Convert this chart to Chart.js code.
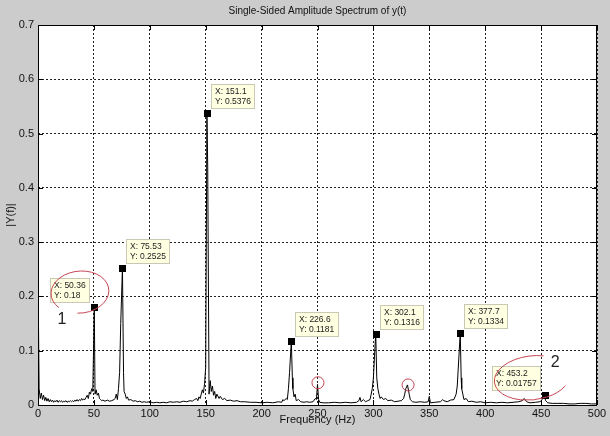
<!DOCTYPE html>
<html>
<head>
<meta charset="utf-8">
<script src="https://cdn.jsdelivr.net/npm/chart.js@4"></script>
<style>
  html, body { margin: 0; padding: 0; background: #cccccc; }
  canvas { display: block; }
</style>
</head>
<body>
<canvas id="grafico" width="610" height="436"></canvas>
<script>
// === DATOS ===
const frecuencias = [
  0, 1, 2, 3, 4, 5, 6, 7, 8, 9, 10, 11, 12, 13, 14, 15, 16, 17, 18, 19, 20,
  21, 22, 23, 24, 25, 26, 27, 28, 29, 30, 31, 32, 33, 34, 35, 36, 37, 38, 39,
  40, 41, 42, 43, 44, 45, 46, 47, 48, 49, 50.36, 51, 52, 53, 54, 55, 56, 57,
  58, 60, 62, 64, 66, 68, 69, 70, 71, 72, 73, 74, 75.53, 76.5, 77, 78, 79, 80,
  81, 83, 85, 87, 89, 91, 93, 95, 97, 100, 103, 106, 109, 112, 115, 118, 121,
  124, 127, 130, 133, 136, 138, 140, 142, 143, 144, 145, 146, 147, 148, 149,
  150, 151.1, 151.8, 153, 154, 155, 156, 157, 158, 159, 160, 162, 163, 165,
  167, 169, 172, 175, 178, 181, 185, 190, 195, 200, 205, 210, 215, 218, 219,
  220, 222, 223, 224, 225, 226.6, 227.5, 228, 229, 230, 231, 233, 235, 238,
  240, 243, 246, 248, 249, 250, 251, 252, 255, 260, 265, 270, 275, 280, 285,
  287, 288, 289, 291, 293, 295, 297, 298, 299, 300, 301, 302.1, 303, 304, 305,
  306, 307, 309, 311, 313, 316, 319, 322, 325, 327, 328, 329, 330.5, 332, 333,
  335, 338, 342, 346, 349, 350, 351, 355, 360, 362, 363, 366, 369, 372, 374,
  375, 376.5, 377.7, 378.5, 379, 380, 381, 383, 385, 388, 392, 396, 400, 405,
  410, 415, 420, 425, 430, 433, 435, 437, 440, 445, 449, 451, 452, 453.2, 454,
  456, 460, 465, 470, 475, 480, 485, 490, 495, 500
];
const amplitudes = [
  0.245, 0.030, 0.012, 0.022, 0.010, 0.018, 0.008, 0.014, 0.007, 0.012, 0.006,
  0.010, 0.006, 0.009, 0.005, 0.008, 0.006, 0.009, 0.005, 0.008, 0.006,
  0.008, 0.005, 0.007, 0.006, 0.008, 0.005, 0.007, 0.006, 0.008, 0.006, 0.008,
  0.006, 0.009, 0.007, 0.010, 0.007, 0.010, 0.008, 0.012,
  0.009, 0.011, 0.010, 0.014, 0.018, 0.012, 0.024, 0.020, 0.030, 0.025, 0.180,
  0.020, 0.028, 0.018, 0.022, 0.012, 0.010, 0.008,
  0.009, 0.007, 0.009, 0.007, 0.008, 0.010, 0.012, 0.020, 0.010, 0.030, 0.060,
  0.150, 0.2525, 0.060, 0.025, 0.020, 0.012, 0.015,
  0.009, 0.010, 0.007, 0.008, 0.006, 0.007, 0.005, 0.006, 0.005, 0.006, 0.004,
  0.005, 0.004, 0.005, 0.004, 0.006, 0.005,
  0.006, 0.005, 0.007, 0.006, 0.008, 0.007, 0.010, 0.012, 0.008, 0.015, 0.012,
  0.020, 0.028, 0.022, 0.040,
  0.070, 0.5376, 0.440, 0.020, 0.045, 0.025, 0.035, 0.018, 0.025, 0.012,
  0.020, 0.012, 0.016, 0.010,
  0.012, 0.008, 0.009, 0.007, 0.008, 0.006, 0.006, 0.005, 0.005, 0.004, 0.005,
  0.004, 0.006, 0.005, 0.010,
  0.008, 0.012, 0.010, 0.030, 0.060, 0.1181, 0.050, 0.030, 0.015, 0.020,
  0.008, 0.010, 0.006, 0.005,
  0.006, 0.005, 0.006, 0.012, 0.010, 0.038, 0.010, 0.005, 0.004, 0.004, 0.005,
  0.004, 0.005, 0.004, 0.005,
  0.008, 0.014, 0.006, 0.010, 0.006, 0.008, 0.010, 0.020, 0.030, 0.050, 0.090,
  0.1316, 0.050, 0.030, 0.020,
  0.012, 0.015, 0.010, 0.012, 0.008, 0.009, 0.006, 0.007, 0.008, 0.012, 0.020,
  0.030, 0.037, 0.020, 0.010,
  0.006, 0.005, 0.006, 0.005, 0.006, 0.016, 0.004, 0.005, 0.006, 0.010, 0.008,
  0.006, 0.009, 0.010, 0.020,
  0.035, 0.090, 0.1334, 0.050, 0.030, 0.020, 0.010, 0.012, 0.006, 0.007, 0.005,
  0.006, 0.004, 0.005,
  0.004, 0.005, 0.004, 0.005, 0.006, 0.008, 0.012, 0.006, 0.004, 0.005, 0.006,
  0.010, 0.014, 0.01757, 0.008,
  0.004, 0.003, 0.003, 0.003, 0.002, 0.002, 0.003, 0.003, 0.002, 0.002
];

// marcadores (data tips) de MATLAB
const marcasX = [50.36, 75.53, 151.1, 226.6, 302.1, 377.7, 453.2];
const marcasY = [0.18, 0.2525, 0.5376, 0.1181, 0.1316, 0.1334, 0.01757];

const ticksX = [0, 50, 100, 150, 200, 250, 300, 350, 400, 450, 500];
const ticksY = [0, 0.1, 0.2, 0.3, 0.4, 0.5, 0.6, 0.7];

const puntos = frecuencias.map((f, i) => ({ x: f, y: amplitudes[i] }));

const fuente = "'Liberation Sans', Arial, sans-serif";

// === PLUGIN: FONDO BLANCO Y MARCO ===
const marcoPlugin = {
  id: 'marco',
  beforeDraw(chart) {
    const { ctx, chartArea: a } = chart;
    ctx.save();
    ctx.fillStyle = '#ffffff';
    ctx.fillRect(a.left, a.top, a.right - a.left, a.bottom - a.top);
    ctx.restore();
  },
  afterDatasetsDraw(chart) {
    const { ctx, chartArea: a, scales } = chart;
    ctx.save();
    ctx.strokeStyle = '#000';
    ctx.lineWidth = 1;
    ctx.strokeRect(Math.round(a.left) + 0.5, Math.round(a.top) + 0.5,
      Math.round(a.right - a.left) - 1, Math.round(a.bottom - a.top));
    // ticks hacia dentro
    ctx.beginPath();
    ticksX.forEach(t => {
      const px = Math.round(scales.x.getPixelForValue(t)) + 0.5;
      ctx.moveTo(px, a.bottom); ctx.lineTo(px, a.bottom - 5);
      ctx.moveTo(px, a.top); ctx.lineTo(px, a.top + 5);
    });
    ticksY.forEach(t => {
      const py = Math.round(scales.y.getPixelForValue(t)) + 0.5;
      ctx.moveTo(a.left, py); ctx.lineTo(a.left + 5, py);
      ctx.moveTo(a.right, py); ctx.lineTo(a.right - 5, py);
    });
    ctx.stroke();
    ctx.restore();
  }
};

// === PLUGIN: DATA TIPS ===
const tipsPlugin = {
  id: 'tips',
  afterDraw(chart, args, opts) {
    const { ctx, scales } = chart;
    ctx.save();
    ctx.font = '8.5px ' + fuente;
    ctx.textBaseline = 'middle';
    marcasX.forEach((mx, i) => {
      const px = scales.x.getPixelForValue(mx);
      const py = scales.y.getPixelForValue(marcasY[i]);
      const lineas = ['X: ' + mx, 'Y: ' + marcasY[i]];
      const w = Math.ceil(Math.max(...lineas.map(l => ctx.measureText(l).width))) + 8;
      const h = 25;
      const izq = opts.izquierda.includes(i);
      const bx = Math.round(izq ? px - 4 - w : px + 4);
      const by = Math.round(py - 4 - h);
      ctx.fillStyle = '#ffffe1';
      ctx.fillRect(bx, by, w, h);
      ctx.strokeStyle = '#c8c8b4';
      ctx.lineWidth = 1;
      ctx.strokeRect(bx + 0.5, by + 0.5, w - 1, h - 1);
      ctx.fillStyle = '#222';
      ctx.fillText(lineas[0], bx + 4, by + 7.5);
      ctx.fillText(lineas[1], bx + 4, by + 17.5);
      ctx.fillStyle = '#000';
      ctx.fillRect(Math.round(px) - 3, Math.round(py) - 3, 7, 7);
    });
    ctx.restore();
  }
};

// === PLUGIN: ANOTACIONES EN ROJO ===
const notasPlugin = {
  id: 'notas',
  afterDraw(chart) {
    const { ctx, scales } = chart;
    const X = v => scales.x.getPixelForValue(v);
    const Y = v => scales.y.getPixelForValue(v);
    ctx.save();
    ctx.strokeStyle = 'rgb(200, 70, 85)';
    ctx.lineWidth = 1;
    // elipse 1
    ctx.beginPath();
    ctx.ellipse(X(37.5), Y(0.208), 29, 21, -0.1, 0.78 * Math.PI, 2.55 * Math.PI);
    ctx.stroke();
    // elipse 2
    ctx.beginPath();
    ctx.ellipse(X(442), Y(0.05), 38, 22, -0.12, -0.38 * Math.PI, 0.18 * Math.PI, true);
    ctx.stroke();
    // circulos pequeños
    ctx.beginPath();
    ctx.arc(X(250.4), Y(0.041), 6, 0, 2 * Math.PI);
    ctx.stroke();
    ctx.beginPath();
    ctx.arc(X(331), Y(0.037), 6, 0, 2 * Math.PI);
    ctx.stroke();
    // numeros
    ctx.fillStyle = '#222';
    ctx.font = '16px ' + fuente;
    ctx.textAlign = 'center';
    ctx.textBaseline = 'middle';
    ctx.fillText('1', X(21.5), Y(0.157));
    ctx.fillText('2', X(462.5), Y(0.079));
    ctx.restore();
  }
};

// === GRAFICO ===
const ctx = document.getElementById('grafico').getContext('2d');
const grafico = new Chart(ctx, {
  type: 'line',
  data: {
    datasets: [{
      data: puntos,
      borderColor: '#000',
      borderWidth: 1,
      pointRadius: 0,
      tension: 0,
      fill: false
    }]
  },
  options: {
    responsive: false,
    animation: false,
    parsing: false,
    layout: { padding: { left: 0, right: 13, top: 0, bottom: 0 } },
    plugins: {
      legend: { display: false },
      tooltip: { enabled: false },
      title: {
        display: true,
        fullSize: false,
        text: 'Single-Sided Amplitude Spectrum of y(t)',
        color: '#111',
        font: { family: fuente, size: 10, weight: 'normal' },
        padding: { top: 5, bottom: 8 }
      },
      tips: { izquierda: [0, 6] }
    },
    scales: {
      x: {
        type: 'linear',
        min: 0,
        max: 500,
        afterFit: s => { s.height = 31; },
        afterBuildTicks: s => { s.ticks = ticksX.map(v => ({ value: v })); },
        ticks: {
          color: '#111',
          padding: 2,
          maxRotation: 0,
          font: { family: fuente, size: 11 },
          callback: v => String(v)
        },
        grid: { color: '#222', drawTicks: false },
        border: { display: false, dash: [2, 2] },
        title: {
          display: true,
          text: 'Frequency (Hz)',
          color: '#111',
          font: { family: fuente, size: 11 },
          padding: { top: 0, bottom: 9 }
        }
      },
      y: {
        min: 0,
        max: 0.7,
        afterFit: s => { s.width = 38; },
        afterBuildTicks: s => { s.ticks = ticksY.map(v => ({ value: v })); },
        ticks: {
          color: '#111',
          padding: 4,
          font: { family: fuente, size: 11 },
          callback: v => String(+v.toFixed(1))
        },
        grid: { color: '#222', drawTicks: false },
        border: { display: false, dash: [2, 2] },
        title: {
          display: true,
          text: '|Y(f)|',
          color: '#111',
          font: { family: fuente, size: 11 },
          padding: { top: 4, bottom: 0 }
        }
      }
    }
  },
  plugins: [marcoPlugin, tipsPlugin, notasPlugin]
});
</script>
</body>
</html>
